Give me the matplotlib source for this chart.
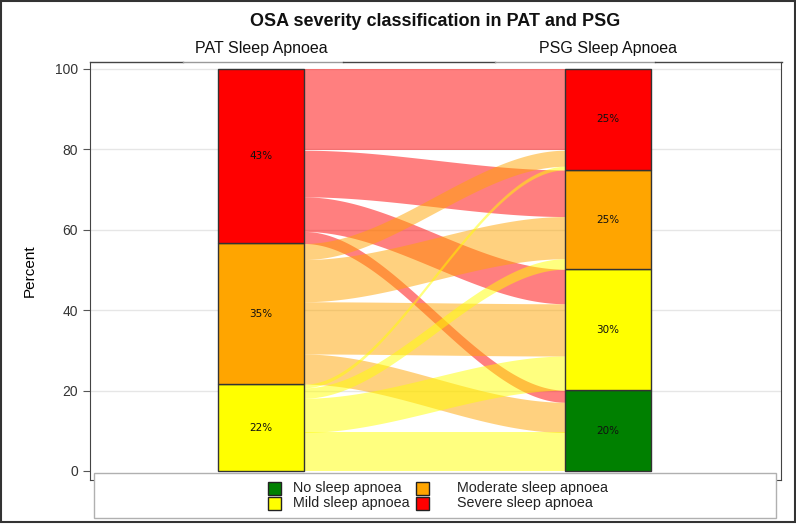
import numpy as np
import matplotlib
matplotlib.use("Agg")
import matplotlib.pyplot as plt
from matplotlib.patches import Rectangle

plt.rcParams['font.family'] = ['Liberation Sans', 'DejaVu Sans']

# categories bottom -> top
categories = ['No sleep apnoea', 'Mild sleep apnoea', 'Moderate sleep apnoea', 'Severe sleep apnoea']
colors = ['#008000', '#FFFF00', '#FFA500', '#FF0000']
stages = ['PAT Sleep Apnoea', 'PSG Sleep Apnoea']

# percent of all patients going from a PAT class to each PSG class (No, Mild, Moderate, Severe)
from_no = [0.0, 0.0, 0.0, 0.0]
from_mild = [9.6, 8.5, 2.6, 0.9]
from_moderate = [7.5, 13.0, 10.5, 4.0]
from_severe = [3.0, 8.6, 11.6, 20.2]

flows = np.array([from_no, from_mild, from_moderate, from_severe])
pat = flows.sum(axis=1)
psg = flows.sum(axis=0)

W, H = 796, 524


def fx(p):
    return p / W


def fy(p):
    return 1 - p / H


fig = plt.figure(figsize=(W / 100, H / 100), dpi=100)
ax = fig.add_axes([fx(90), fy(480), 691 / W, 418 / H])

# pixel geometry of the plot: bar centres at 261 and 608 px, y=0 at 471 px, y=100 at 69 px
bw = 86 / 347
ax.set_xlim(-171 / 347, 1 + 173 / 347)
ax.set_ylim(-9 / 4.02, 100 + 7 / 4.02)

for y in range(20, 101, 20):
    ax.axhline(y, color='#e6e6e6', lw=1, zorder=0)


def stack(v):
    return np.concatenate([[0], np.cumsum(v)[:-1]])


pat_b = stack(pat)
psg_b = stack(psg)

# flow offsets inside each node
left_off = pat_b.copy()
right_off = psg_b.copy()
segs = {}
for i in range(4):
    for j in range(4):
        segs[(i, j, 'L')] = left_off[i]
        left_off[i] += flows[i, j]
for j in range(4):
    for i in range(4):
        segs[(i, j, 'R')] = right_off[j]
        right_off[j] += flows[i, j]

x0, x1 = bw / 2, 1 - bw / 2
xs = np.linspace(x0, x1, 200)
t = (xs - x0) / (x1 - x0)
s = t * t * (3 - 2 * t)
for i in [3, 2, 1, 0]:
    for j in range(4):
        w = flows[i, j]
        if w <= 0:
            continue
        l0 = segs[(i, j, 'L')]
        r0 = segs[(i, j, 'R')]
        lo = l0 + (r0 - l0) * s
        ax.fill_between(xs, lo, lo + w, color=colors[i], alpha=0.5, lw=0, zorder=1)

for x, vals, bases in [(0, pat, pat_b), (1, psg, psg_b)]:
    for k in range(4):
        if vals[k] <= 0:
            continue
        ax.bar(x, vals[k], bottom=bases[k], width=bw, color=colors[k],
               edgecolor='#333333', lw=1, zorder=3)
        ax.text(x, bases[k] + vals[k] / 2, f'{vals[k]:.0f}%', ha='center', va='center',
                fontsize=7.5, family='DejaVu Sans', color='#111111', zorder=4)

ax.set_xticks([])
ax.set_yticks(range(0, 101, 20))
ax.tick_params(axis='y', labelsize=10, labelcolor='#333333', color='#555555', length=5)
ax.set_ylabel('Percent', fontsize=11, labelpad=13)
for sp in ax.spines.values():
    sp.set_color('#444444')
ax.spines['top'].set_visible(False)

# top frame, lighter under the stage headers
def top_seg(a, b, c):
    fig.add_artist(plt.Line2D([fx(a), fx(b)], [fy(62), fy(62)], color=c, lw=1,
                              transform=fig.transFigure))


top_seg(90, 183, '#444444')
top_seg(183, 343, '#9a9a9a')
top_seg(343, 495, '#444444')
top_seg(495, 655, '#9a9a9a')
top_seg(655, 781.5, '#444444')

for xp, name in zip([261, 608], stages):
    fig.text(fx(xp), fy(48), name, ha='center', va='center', fontsize=11.5, color='#111111')

fig.text(fx(435.5), fy(22), 'OSA severity classification in PAT and PSG',
         ha='center', va='center', fontsize=13, fontweight='bold', color='#111111')

# legend box
fig.patches.append(Rectangle((fx(94), fy(518)), 682 / W, 45 / H, transform=fig.transFigure,
                             facecolor='white', edgecolor='#b0b0b0', lw=1, zorder=5))
leg_pos = [(268, 488), (268, 503), (416, 488), (416, 503)]
text_x = [293, 293, 457, 457]
for k in range(4):
    mx, my = leg_pos[k]
    fig.patches.append(Rectangle((fx(mx), fy(my + 6.5)), 13 / W, 13 / H, transform=fig.transFigure,
                                 facecolor=colors[k], edgecolor='#222222', lw=1, zorder=6))
    fig.text(fx(text_x[k]), fy(my), categories[k], ha='left', va='center', fontsize=10.3,
             color='#222222', zorder=6)

fig.patches.append(Rectangle((fx(1), fy(522)), 793.5 / W, 521 / H,
                             transform=fig.transFigure, fill=False, edgecolor='#333333', lw=1.5))

fig.savefig('out.png', dpi=100)
